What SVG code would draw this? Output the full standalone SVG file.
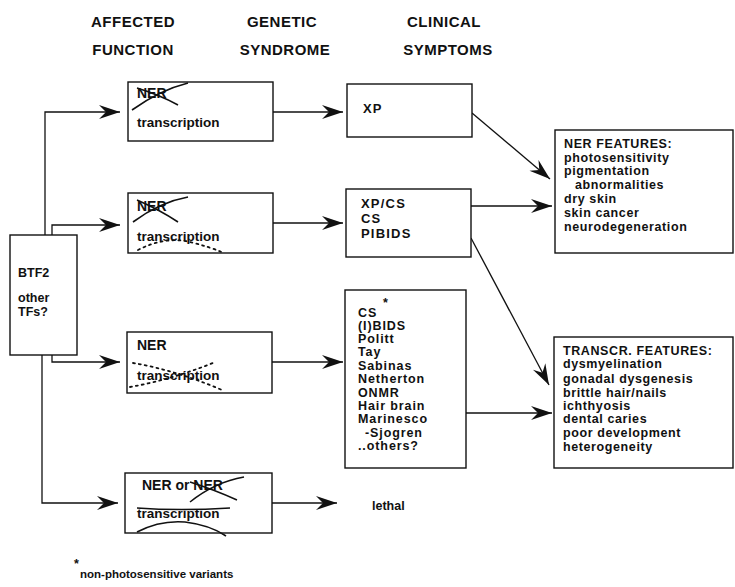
<svg xmlns="http://www.w3.org/2000/svg" width="735" height="587" viewBox="0 0 735 587">
<style>
text{font-family:"Liberation Sans",Arial,sans-serif;font-weight:bold;fill:#111}
.hd{font-size:15px;letter-spacing:0.5px}
.bx{fill:#fff;stroke:#111;stroke-width:1.4}
.t14{font-size:14px}
.t15{font-size:13px;letter-spacing:1.2px}
.mid{font-size:12.5px;letter-spacing:0.9px}
.rt{font-size:12.5px;letter-spacing:0.6px}
.t13{font-size:13.5px}
.t12{font-size:12.5px}
.con{fill:none;stroke:#111;stroke-width:1.3}
.stk{fill:none;stroke:#111;stroke-width:1.6}
.dot{fill:none;stroke:#111;stroke-width:1.8;stroke-dasharray:2 4;stroke-linecap:round}
</style>
<defs>
<marker id="ah" markerUnits="userSpaceOnUse" markerWidth="24" markerHeight="16" viewBox="-22 -8 24 16" refX="0" refY="0" orient="auto">
<path d="M0,0 L-21,-7 L-14,0 L-21,7 Z" fill="#111"/>
</marker>
</defs>
<g id="headers">
<text class="hd" x="133" y="27" text-anchor="middle">AFFECTED</text>
<text class="hd" x="133" y="55" text-anchor="middle">FUNCTION</text>
<text class="hd" x="282" y="27" text-anchor="middle">GENETIC</text>
<text class="hd" x="285" y="55" text-anchor="middle">SYNDROME</text>
<text class="hd" x="444" y="27" text-anchor="middle">CLINICAL</text>
<text class="hd" x="448" y="55" text-anchor="middle">SYMPTOMS</text>
</g>
<g id="connectors">
<path class="con" d="M45,235 V112 H120" marker-end="url(#ah)"/>
<path class="con" d="M52,235 V225 H120" marker-end="url(#ah)"/>
<path class="con" d="M52,355 V362 H120" marker-end="url(#ah)"/>
<path class="con" d="M42,355 V503 H118" marker-end="url(#ah)"/>
<path class="con" d="M273,112 H343" marker-end="url(#ah)"/>
<path class="con" d="M273,223 H343" marker-end="url(#ah)"/>
<path class="con" d="M272,362 H343" marker-end="url(#ah)"/>
<path class="con" d="M272,503 H337" marker-end="url(#ah)"/>
<path class="con" d="M472,113 L550,179" marker-end="url(#ah)"/>
<path class="con" d="M471,206 H552" marker-end="url(#ah)"/>
<path class="con" d="M471,238 L549,385" marker-end="url(#ah)"/>
<path class="con" d="M466,413 H552" marker-end="url(#ah)"/>
</g>
<g id="btf2">
<rect class="bx" x="10" y="235" width="67" height="120"/>
<text class="t12" x="18" y="277">BTF2</text>
<text class="t12" x="18" y="302">other</text>
<text class="t12" x="18" y="316">TFs?</text>
</g>
<g id="func1">
<rect class="bx" x="128" y="82" width="145" height="59"/>
<text class="t14" x="137" y="98">NER</text>
<path class="stk" d="M132,110 Q160,90 188,83"/>
<path class="stk" d="M137,88 Q160,95 178,105"/>
<text class="t13" x="137" y="127">transcription</text>
</g>
<g id="func2">
<rect class="bx" x="128" y="193" width="145" height="60"/>
<text class="t14" x="137" y="211">NER</text>
<path class="stk" d="M133,222 Q160,202 188,197"/>
<path class="stk" d="M137,200 Q160,210 178,222"/>
<text class="t13" x="137" y="241">transcription</text>
<path class="dot" d="M138,250 Q165,236 190,242 Q210,247 224,253"/>
</g>
<g id="func3">
<rect class="bx" x="127" y="332" width="145" height="61"/>
<text class="t14" x="137" y="350">NER</text>
<text class="t13" x="137" y="380">transcription</text>
<path class="dot" d="M133,363 Q175,370 222,390"/>
<path class="dot" d="M130,387 Q170,380 213,363"/>
</g>
<g id="func4">
<rect class="bx" x="125" y="473" width="147" height="60"/>
<text class="t14" x="142" y="490">NER or NER</text>
<path class="stk" d="M190,502 Q215,482 244,477"/>
<path class="stk" d="M190,482 Q215,490 237,500"/>
<text class="t13" x="137" y="518">transcription</text>
<path class="stk" d="M137,508 Q180,511 230,508"/>
<path class="stk" d="M137,532 Q160,520 185,522 Q210,525 226,536"/>
</g>
<g id="lethal">
<text class="t12" x="372" y="510">lethal</text>
</g>
<g id="xp">
<rect class="bx" x="347" y="84" width="125" height="53"/>
<text class="t15" x="363" y="113">XP</text>
</g>
<g id="xpcs">
<rect class="bx" x="346" y="189" width="125" height="68"/>
<text class="t15" x="361" y="208">XP/CS</text>
<text class="t15" x="361" y="223">CS</text>
<text class="t15" x="361" y="238">PIBIDS</text>
</g>
<g id="csgroup">
<rect class="bx" x="345" y="290" width="121" height="178"/>
<text class="mid" x="358" y="317">CS</text>
<text class="t12" x="383" y="307">*</text>
<text class="mid" x="358" y="330">(I)BIDS</text>
<text class="mid" x="358" y="343">Politt</text>
<text class="mid" x="358" y="356">Tay</text>
<text class="mid" x="358" y="370">Sabinas</text>
<text class="mid" x="358" y="383">Netherton</text>
<text class="mid" x="358" y="397">ONMR</text>
<text class="mid" x="358" y="410">Hair brain</text>
<text class="mid" x="358" y="423">Marinesco</text>
<text class="mid" x="365" y="437">-Sjogren</text>
<text class="mid" x="358" y="450">..others?</text>
</g>
<g id="nerfeatures">
<rect class="bx" x="555" y="130" width="178" height="123"/>
<text class="rt" x="564" y="148">NER FEATURES:</text>
<text class="rt" x="564" y="162">photosensitivity</text>
<text class="rt" x="564" y="175">pigmentation</text>
<text class="rt" x="575" y="189">abnormalities</text>
<text class="rt" x="564" y="203">dry skin</text>
<text class="rt" x="564" y="217">skin cancer</text>
<text class="rt" x="564" y="231">neurodegeneration</text>
</g>
<g id="transcrfeatures">
<rect class="bx" x="554" y="337" width="179" height="131"/>
<text class="rt" x="563" y="355">TRANSCR. FEATURES:</text>
<text class="rt" x="563" y="368">dysmyelination</text>
<text class="rt" x="563" y="383">gonadal dysgenesis</text>
<text class="rt" x="563" y="397">brittle hair/nails</text>
<text class="rt" x="563" y="410">ichthyosis</text>
<text class="rt" x="563" y="423">dental caries</text>
<text class="rt" x="563" y="437">poor development</text>
<text class="rt" x="563" y="451">heterogeneity</text>
</g>
<g id="footnote">
<text class="t12" x="74" y="568">*</text>
<text x="80" y="578" style="font-size:11.5px">non-photosensitive variants</text>
</g>
</svg>
